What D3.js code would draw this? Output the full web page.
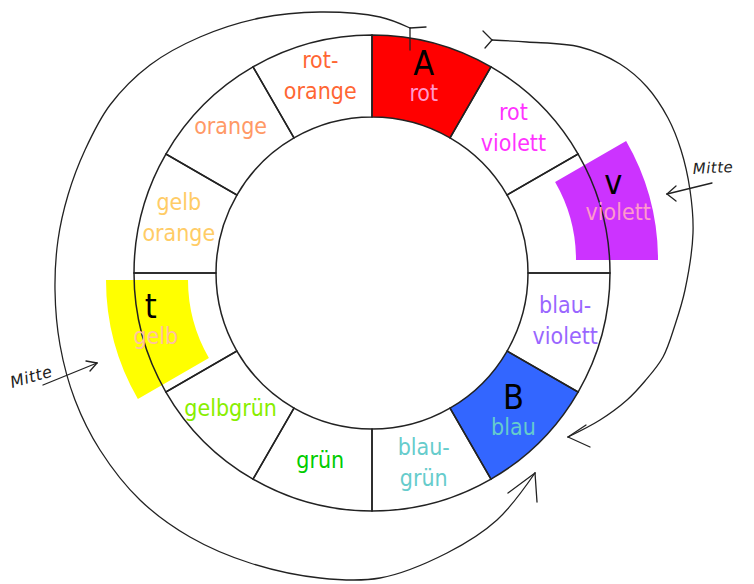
<!DOCTYPE html>
<html>
<head>
<meta charset="utf-8">
<title>Farbkreis</title>
<script src="https://cdn.jsdelivr.net/npm/d3@7/dist/d3.min.js"></script>
<style>
  body { margin: 0; background: #fff; }
  svg { display: block; }
</style>
</head>
<body>
<div id="chart"></div>
<script>
// the 12 segments, clockwise from 12 o'clock
var segLines = [["rot"], ["rot", "violett"], ["violett"], ["blau-", "violett"],
                ["blau"], ["blau-", "grün"], ["grün"], ["gelbgrün"],
                ["gelb"], ["gelb", "orange"], ["orange"], ["rot-", "orange"]];
var textColors = ["#FF99CC", "#FF33FF", "#FF99CC", "#9966FF",
                  "#66CCCC", "#66CCCC", "#00CC00", "#88EE00",
                  "#FFC0A0", "#FFCC66", "#FF9966", "#FF6633"];
var fillColors = ["#FF0000", null, "#CC33FF", null,
                  "#3366FF", null, null, null,
                  "#FFFF00", null, null, null];
var letters = ["A", "", "v", "", "B", "", "", "", "t", "", "", ""];
// segments that were pulled out of the ring
var shifted = {2: [48, -13], 8: [-28, 7]};

var width = 754, height = 584;
var cx = 372, cy = 273, rIn = 156, rOut = 238, rText = 200;

var svg = d3.select("#chart").append("svg")
    .attr("width", width)
    .attr("height", height);

var angle = d3.scaleLinear().domain([0, 12]).range([0, 2 * Math.PI]);
var arc = d3.arc()
    .innerRadius(rIn).outerRadius(rOut)
    .startAngle(function(i) { return angle(i); })
    .endAngle(function(i) { return angle(i + 1); });

var idx = d3.range(segLines.length);
var wheel = svg.append("g").attr("transform", "translate(" + cx + "," + cy + ")");

function shiftOf(i) { return shifted[i] || [0, 0]; }

// coloured fills (moved ones at their new place)
wheel.selectAll("path.fill").data(idx.filter(function(i) { return fillColors[i]; }))
  .enter().append("path")
    .attr("class", "fill")
    .attr("d", arc)
    .attr("transform", function(i) { return "translate(" + shiftOf(i) + ")"; })
    .style("fill", function(i) { return fillColors[i]; });

// outlines of the ring
wheel.selectAll("path.edge").data(idx).enter().append("path")
    .attr("class", "edge")
    .attr("d", arc)
    .style("fill", "none")
    .style("stroke", "#222")
    .style("stroke-width", 1.5);

// labels
idx.forEach(function(i) {
  var a = angle(i + 0.5), s = shiftOf(i);
  var x = rText * Math.sin(a) + s[0];
  var y = -rText * Math.cos(a) + s[1];
  var lines = segLines[i];
  if (letters[i]) {
    var my = y + (shifted[i] ? -1 : 8);
    wheel.append("text")
        .attr("x", x).attr("y", my - 13)
        .attr("text-anchor", "middle")
        .style("font-family", "'DejaVu Sans Condensed', 'DejaVu Sans', sans-serif")
        .style("font-size", "34px")
        .style("fill", "#000")
        .text(letters[i]);
    wheel.append("text")
        .attr("x", x + (shifted[i] ? 5 : 0)).attr("y", my + 13)
        .attr("text-anchor", "middle")
        .style("font-family", "'DejaVu Sans Condensed', 'DejaVu Sans', sans-serif")
        .style("font-size", "23px")
        .style("fill", textColors[i])
        .text(lines[0]);
  } else {
    var base = lines.length == 1 ? y + 2 : y - 11.5;
    lines.forEach(function(t, k) {
      wheel.append("text")
          .attr("x", x).attr("y", base + k * 31)
          .attr("text-anchor", "middle")
          .style("font-family", "'DejaVu Sans Condensed', 'DejaVu Sans', sans-serif")
          .style("font-size", "23px")
          .style("fill", textColors[i])
          .text(t);
    });
  }
});

// hand drawn notes on top
var hand = svg.append("g")
    .style("fill", "none")
    .style("stroke", "#222")
    .style("stroke-width", 1.3)
    .style("stroke-linecap", "round");
var curve = d3.line().curve(d3.curveCatmullRom);

var leftSweep = [[410, 28], [380, 17], [320, 12], [260, 18], [200, 37], [150, 65], [110, 105],
                 [85, 150], [68, 195], [58, 240], [55, 290], [60, 345], [75, 400], [100, 450],
                 [140, 500], [190, 537], [250, 563], [320, 578], [380, 578], [447, 553],
                 [497, 520], [535, 473]];
var rightSweep = [[492, 40], [527, 42], [580, 47], [620, 64], [647, 87], [668, 118],
                  [681, 150], [690, 190], [693, 233], [685, 290], [675, 325], [663, 357],
                  [645, 381], [627, 400], [600, 420], [568, 437]];
hand.append("path").attr("d", curve(leftSweep));
hand.append("path").attr("d", curve(rightSweep));

var ticks = [
  [[410, 28], [426, 27]], [[410, 28], [410, 50]],          // T at the start
  [[492, 40], [483, 31]], [[492, 40], [485, 48]],          // Y at the start
  [[535, 473], [508, 493]], [[535, 473], [537, 502]],      // arrow heads
  [[568, 437], [586, 425]], [[568, 437], [590, 447]],
  [[712, 183], [667, 194]], [[667, 194], [676, 186]], [[667, 194], [676, 201]],
  [[43, 385], [97, 363]], [[97, 363], [86, 361]], [[97, 363], [90, 371]]
];
hand.selectAll("path.tick").data(ticks).enter().append("path")
    .attr("class", "tick")
    .attr("d", d3.line());

svg.append("text")
    .attr("transform", "translate(693,174) rotate(-3)")
    .style("font-family", "'DejaVu Sans', sans-serif")
    .style("font-style", "italic")
    .style("font-size", "15px")
    .style("letter-spacing", "0.5px")
    .style("fill", "#222")
    .text("Mitte");
svg.append("text")
    .attr("transform", "translate(12,388) rotate(-16)")
    .style("font-family", "'DejaVu Sans', sans-serif")
    .style("font-style", "italic")
    .style("font-size", "16px")
    .style("letter-spacing", "0.5px")
    .style("fill", "#222")
    .text("Mitte");
</script>
</body>
</html>
